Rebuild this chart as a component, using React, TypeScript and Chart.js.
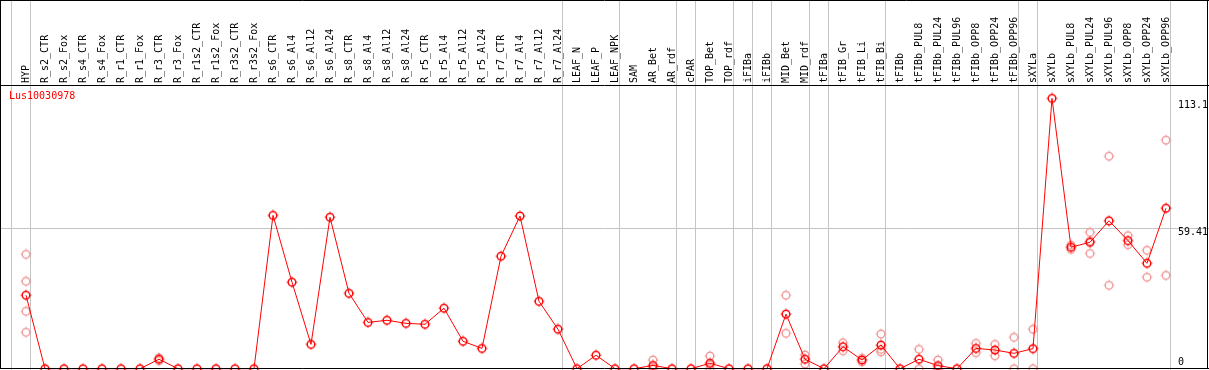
import React, { useEffect, useRef } from 'react';
import { Chart, registerables } from 'chart.js';

Chart.register(...registerables);

const geneName = 'Lus10030978';

const categories = [
  'HYP',
  'R_s2_CTR', 'R_s2_Fox', 'R_s4_CTR', 'R_s4_Fox', 'R_r1_CTR', 'R_r1_Fox', 'R_r3_CTR', 'R_r3_Fox',
  'R_r1s2_CTR', 'R_r1s2_Fox', 'R_r3s2_CTR', 'R_r3s2_Fox',
  'R_s6_CTR', 'R_s6_Al4', 'R_s6_Al12', 'R_s6_Al24', 'R_s8_CTR', 'R_s8_Al4', 'R_s8_Al12', 'R_s8_Al24',
  'R_r5_CTR', 'R_r5_Al4', 'R_r5_Al12', 'R_r5_Al24', 'R_r7_CTR', 'R_r7_Al4', 'R_r7_Al12', 'R_r7_Al24',
  'LEAF_N', 'LEAF_P', 'LEAF_NPK',
  'SAM', 'AR_Bet', 'AR_rdf', 'cPAR', 'TOP_Bet', 'TOP_rdf', 'iFIBa', 'iFIBb', 'MID_Bet', 'MID_rdf',
  'tFIBa', 'tFIB_Gr', 'tFIB_Li', 'tFIB_Bi',
  'tFIBb', 'tFIBb_PUL8', 'tFIBb_PUL24', 'tFIBb_PUL96', 'tFIBb_OPP8', 'tFIBb_OPP24', 'tFIBb_OPP96',
  'sXYLa',
  'sXYLb', 'sXYLb_PUL8', 'sXYLb_PUL24', 'sXYLb_PUL96', 'sXYLb_OPP8', 'sXYLb_OPP24', 'sXYLb_OPP96',
];

const means = [
  31.1,
  0, 0, 0, 0, 0, 0, 4.0, 0,
  0, 0, 0, 0,
  64.9, 36.6, 10.3, 64.1, 31.9, 19.6, 20.5, 19.2,
  18.8, 25.6, 11.6, 8.6, 47.6, 64.6, 28.5, 16.7,
  0, 5.7, 0,
  0, 1.4, 0, 0, 2.3, 0, 0, 0, 23.1, 4.0,
  0, 9.3, 3.7, 10.0,
  0, 4.0, 1.3, 0, 8.6, 7.9, 6.5,
  8.5,
  114.4, 51.4, 53.5, 62.6, 54.2, 44.6, 67.9,
];

const replicates: number[][] = [
  [48.4, 37.0, 24.3, 15.4],
  [], [], [], [], [], [], [4.6, 3.4], [],
  [], [], [], [],
  [], [], [], [], [], [], [], [],
  [], [], [], [], [], [], [], [],
  [], [], [],
  [], [3.7, 0.5, 0], [], [], [5.4, 1.5, 0], [], [], [], [31.1, 15.0], [5.8, 2.0],
  [], [11.0, 7.6], [4.4, 2.9], [14.7, 8.2, 7.1],
  [], [8.2, 0], [3.7, 0, 0], [], [10.7, 6.8], [10.3, 5.5], [13.3, 0],
  [16.7, 0],
  [], [52.3, 50.5], [57.7, 48.8, 54.0], [89.9, 35.3], [56.3, 52.5], [50.1, 38.7], [96.7, 39.5],
];

// index of the last category in each group (-1 = before the first)
const groupEnds = [-1, 0, 28, 31, 34, 35, 37, 38, 39, 41, 42, 45, 52, 53, 60];

const yTickValues = [113.1, 59.41, 0];
const yTickLabels = ['113.1', '59.41', '0'];

const FONT = '10px "DejaVu Sans Mono", monospace';
const GRAY = '#c4c4c4';
const RED = '#ff0000';
const PINK = '#f09c9c';

function makeMarker(color: string): HTMLCanvasElement {
  const c = document.createElement('canvas');
  c.width = 12;
  c.height = 12;
  const g = c.getContext('2d')!;
  g.strokeStyle = color;
  g.lineWidth = 1.4;
  g.beginPath();
  g.arc(6, 6, 3.8, 0, Math.PI * 2);
  g.stroke();
  g.lineWidth = 1;
  g.beginPath();
  g.moveTo(6, 0.6); g.lineTo(6, 1.8);
  g.moveTo(6, 10.2); g.lineTo(6, 11.4);
  g.moveTo(0.6, 6); g.lineTo(1.8, 6);
  g.moveTo(10.2, 6); g.lineTo(11.4, 6);
  g.stroke();
  return c;
}

export default function App() {
  const ref = useRef<HTMLCanvasElement | null>(null);

  useEffect(() => {
    if (!ref.current) return;
    const meanMarker = makeMarker(RED);
    const repMarker = makeMarker(PINK);

    const decor = {
      id: 'decor',
      beforeDatasetsDraw(chart: any) {
        const ctx = chart.ctx;
        const xs = chart.scales.x;
        const ys = chart.scales.y;
        const { left, right, bottom } = chart.chartArea;
        ctx.save();
        ctx.strokeStyle = GRAY;
        ctx.lineWidth = 1;
        const gy = Math.round(ys.getPixelForValue(yTickValues[1])) + 0.5;
        ctx.beginPath();
        ctx.moveTo(left, gy);
        ctx.lineTo(right, gy);
        ctx.stroke();
        ctx.beginPath();
        groupEnds.forEach((g) => {
          const px = Math.round(xs.getPixelForValue(g + 0.22)) + 0.5;
          ctx.moveTo(px, 0);
          ctx.lineTo(px, bottom);
        });
        ctx.stroke();
        ctx.restore();
      },
      afterDraw(chart: any) {
        const ctx = chart.ctx;
        const ys = chart.scales.y;
        const { top } = chart.chartArea;
        const W = chart.width;
        const H = chart.height;
        ctx.save();
        ctx.strokeStyle = '#000';
        ctx.lineWidth = 1;
        ctx.beginPath();
        ctx.moveTo(0, 0.5); ctx.lineTo(W, 0.5);
        ctx.moveTo(0.5, 0); ctx.lineTo(0.5, H - 1);
        ctx.moveTo(W - 1.5, 0); ctx.lineTo(W - 1.5, H - 1);
        ctx.moveTo(0, Math.round(top) + 0.5); ctx.lineTo(W, Math.round(top) + 0.5);
        ctx.moveTo(0, H - 1.5); ctx.lineTo(W, H - 1.5);
        ctx.stroke();

        ctx.font = FONT;
        ctx.fillStyle = RED;
        ctx.textAlign = 'left';
        ctx.textBaseline = 'middle';
        ctx.fillText(geneName, 9, top + 11);

        ctx.fillStyle = '#000';
        yTickValues.forEach((v, i) => {
          const py = ys.getPixelForValue(v);
          if (v === 0) {
            ctx.textBaseline = 'bottom';
            ctx.fillText(yTickLabels[i], 1178, py - 1);
          } else {
            ctx.textBaseline = 'middle';
            ctx.fillText(yTickLabels[i], 1178, py + 4);
          }
        });
        ctx.restore();
      },
    };

    const meanData = means.map((v, i) => ({ x: i, y: v }));
    const repData = replicates.flatMap((arr, i) => arr.map((v) => ({ x: i, y: v })));
    const n = categories.length;

    const chart = new Chart(ref.current, {
      type: 'line',
      data: {
        datasets: [
          {
            label: geneName,
            data: meanData,
            borderColor: RED,
            borderWidth: 1,
            tension: 0,
            pointStyle: meanMarker as any,
            pointRadius: 5,
            pointHoverRadius: 5,
            order: 0,
          },
          {
            label: 'replicates',
            data: repData,
            showLine: false,
            pointStyle: repMarker as any,
            pointRadius: 5,
            pointHoverRadius: 5,
            order: 1,
          },
        ],
      },
      options: {
        responsive: false,
        animation: false,
        events: [],
        layout: { padding: 0, autoPadding: false },
        plugins: { legend: { display: false }, tooltip: { enabled: false } },
        scales: {
          x: {
            type: 'linear',
            position: 'top',
            min: -26 / 19,
            max: (1209 - 26) / 19,
            afterBuildTicks: (s: any) => {
              s.ticks = categories.map((_, i) => ({ value: i }));
            },
            afterFit: (s: any) => {
              s.height = 85;
            },
            grid: { display: false, drawTicks: false },
            border: { display: false },
            ticks: {
              autoSkip: false,
              minRotation: 90,
              maxRotation: 90,
              padding: 2,
              labelOffset: 12,
              color: '#000',
              font: { family: '"DejaVu Sans Mono", monospace', size: 10 },
              callback: (_v: any, idx: number) => (idx < n ? categories[idx] : ''),
            },
          },
          y: {
            type: 'linear',
            display: false,
            min: -0.55,
            max: 120.05,
          },
        },
      },
      plugins: [decor],
    });

    return () => chart.destroy();
  }, []);

  return (
    <div style={{ position: 'fixed', left: 0, top: 0, width: 1209, height: 370, background: '#fff' }}>
      <canvas ref={ref} width={1209} height={370} style={{ display: 'block' }} />
    </div>
  );
}
